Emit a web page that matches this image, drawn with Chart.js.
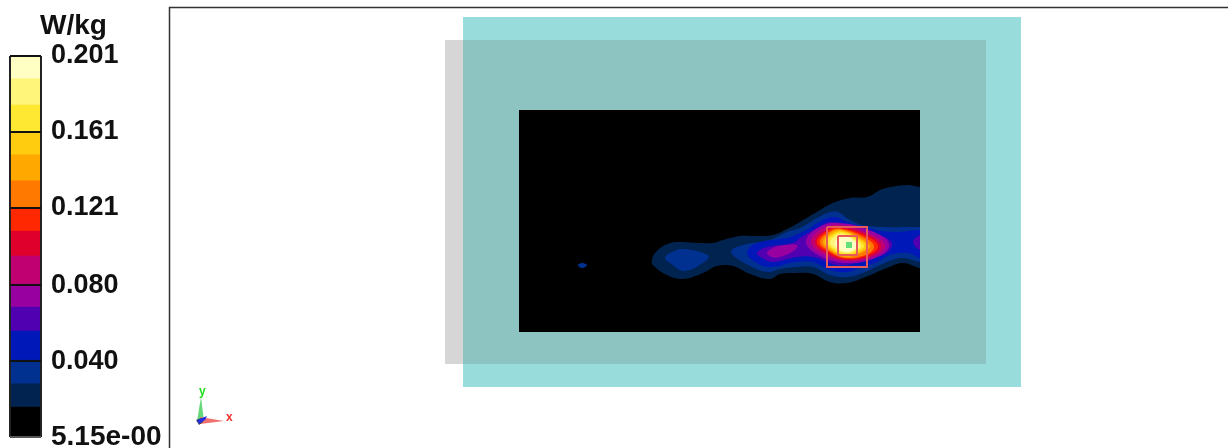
<!DOCTYPE html>
<html>
<head>
<meta charset="utf-8">
<title>SAR scan</title>
<script src="https://cdn.jsdelivr.net/npm/chart.js@4"></script>
<style>
  html, body { margin: 0; padding: 0; background: #fff; overflow: hidden; }
  #wrap { position: relative; width: 1228px; height: 448px; }
  canvas { position: absolute; left: 0; top: 0; }
  .txt { position: absolute; font-family: "Liberation Sans", sans-serif; font-weight: bold; line-height: 1; }
  #unit { left: 40px; top: 11px; font-size: 28px; color: #111; }
  #lblX { left: 226px; top: 411px; font-size: 12px; color: #f03030; }
  #lblY { left: 199px; top: 385px; font-size: 12px; color: #20e020; }
</style>
</head>
<body>
<div id="wrap">
  <canvas id="chart-map" width="1228" height="448"></canvas>
  <canvas id="chart-bar" width="169" height="448"></canvas>
  <div class="txt" id="unit">W/kg</div>
  <div class="txt" id="lblX">x</div>
  <div class="txt" id="lblY">y</div>
</div>
<script>
// Colour scale
const bandEdges = [0, 0.0158, 0.0280, 0.0406, 0.0559, 0.0686, 0.0807, 0.0955, 0.1087, 0.1208, 0.1351, 0.1488, 0.1609, 0.1751, 0.1889, 0.201];
const bandColors = ['#000000', '#00244f', '#003090', '#0018b8', '#5000b0', '#9800a0', '#c00070', '#e0002c', '#ff2800', '#ff7800', '#ffa800', '#ffcc10', '#ffe832', '#fff57a', '#ffffc4'];
const tickValues = [0.201, 0.161, 0.121, 0.080, 0.040, 0];
const tickLabels = ['0.201', '0.161', '0.121', '0.080', '0.040', '5.15e-00'];

// Phantom and scan outlines
const phantomBox = [[463, 17], [1021, 17], [1021, 387], [463, 387], [463, 17]];
const shellBox = [[445, 40], [986, 40], [986, 364], [445, 364], [445, 40]];
const overlapBox = [[463, 40], [986, 40], [986, 364], [463, 364], [463, 40]];
const scanBox = [[519, 110], [920, 110], [920, 332], [519, 332], [519, 110]];
const sideStrip = [[920, 110], [945, 110], [945, 332], [920, 332], [920, 110]];
const frameLine = [[169.5, 448], [169.5, 7.5], [1228, 7.5]];

// Contours, outer to inner
const navyOuter = [[652, 260], [655, 253], [665, 245], [677, 242], [700, 243], [713, 243], [723, 240], [740, 236], [757, 236], [773, 235], [787, 229], [800, 222], [820, 210], [833, 203], [850, 198], [867, 197], [883, 189], [907, 185], [920, 187], [932, 187], [932, 268], [920, 268], [903, 263], [887, 268], [863, 278], [847, 283], [830, 282], [813, 274], [797, 273], [780, 274], [770, 279], [750, 274], [733, 266], [717, 266], [703, 273], [683, 279], [667, 275], [653, 265], [652, 260]];
const blueSpot = [[578, 265], [582, 263], [587, 265], [582, 268], [578, 265]];
const blueLeft = [[665, 258], [670, 253], [683, 249], [708, 255], [707, 260], [685, 271], [670, 263], [665, 258]];
const blueMain = [[731, 252], [743, 245], [770, 240], [787, 232], [800, 228], [817, 218], [830, 212], [838, 212], [850, 220], [867, 226], [920, 227], [932, 227], [932, 262], [920, 262], [903, 258], [887, 262], [863, 273], [847, 277], [830, 275], [813, 267], [797, 267], [780, 269], [768, 272], [750, 266], [731, 252]];
const royalMain = [[747, 253], [757, 243], [787, 238], [800, 233], [810, 228], [817, 223], [833, 217], [847, 222], [867, 228], [893, 232], [920, 230], [932, 230], [932, 258], [920, 258], [908, 253], [890, 255], [877, 262], [860, 268], [847, 272], [830, 270], [813, 262], [797, 262], [770, 267], [757, 263], [747, 253]];
const violetMain = [[757, 253], [767, 247], [793, 243], [800, 238], [817, 228], [830, 222], [843, 225], [860, 230], [880, 235], [892, 243], [888, 252], [877, 257], [857, 263], [837, 265], [813, 257], [797, 257], [773, 262], [762, 258], [757, 253]];
const violetRight = [[932, 232], [920, 235], [913, 242], [920, 250], [932, 252], [932, 232]];
const purpleLeft = [[767, 253], [773, 248], [785, 245], [797, 245], [795, 250], [780, 257], [772, 257], [767, 253]];
const purpleHot = [[806, 242], [818, 228], [840, 223], [874, 232], [889, 244], [880, 256], [848, 263], [820, 256], [806, 242]];
const plumHot = [[811, 242], [822, 229], [840, 225], [872, 235], [885, 245], [877, 255], [848, 261], [823, 254], [811, 242]];
const crimsonHot = [[815, 242], [825, 231], [840, 227], [870, 236], [881, 246], [873, 255], [847, 260], [826, 253], [815, 242]];
const redHot = [[817, 242], [827, 231], [840, 228], [868, 237], [878, 246], [871, 254], [847, 259], [828, 252], [817, 242]];
const orangeHot = [[820, 242], [829, 232], [841, 229], [865, 238], [874, 246], [868, 254], [846, 258], [829, 251], [820, 242]];
const amberHot = [[823, 242], [830, 233], [841, 230], [860, 238], [870, 246], [863, 252], [846, 257], [831, 251], [823, 242]];
const goldHot = [[825, 242], [832, 234], [842, 231], [858, 238], [867, 246], [860, 252], [846, 256], [832, 250], [825, 242]];
const yellowHot = [[827, 242], [833, 235], [842, 232], [857, 239], [864, 246], [858, 251], [846, 255], [834, 250], [827, 242]];
const paleHot = [[830, 243], [835, 236], [843, 234], [855, 240], [861, 246], [856, 250], [846, 253], [836, 249], [830, 243]];
const creamHot = [[835, 244], [838, 238], [845, 236], [853, 240], [858, 245], [854, 250], [846, 252], [839, 249], [835, 244]];

// Scan markers
const zoomBox = [[827, 227], [867, 227], [867, 267], [827, 267], [827, 227]];
const cubeBox = [[838, 236], [857, 236], [857, 255], [838, 255], [838, 236]];
const peakCell = [[846, 242], [852, 242], [852, 248], [846, 248], [846, 242]];

// Axis triad
const triadGreen = [[197, 421], [204, 421], [201, 397], [197, 421]];
const triadRed = [[200, 417], [200, 424], [224, 421], [200, 417]];
const triadBlue = [[197, 420], [207, 416], [205, 420], [199, 424], [197, 420]];
const triadHub = [[196, 420], [201, 418], [203, 422], [199, 425], [196, 420]];

function filled(points, color, smooth) {
  // smooth loops repeat their ends so the seam has no corner
  const loop = smooth ? [points[points.length - 2], ...points, points[1]] : points;
  return {
    data: loop.map(p => ({ x: p[0], y: p[1] })),
    showLine: true,
    pointRadius: 0,
    borderWidth: 0,
    backgroundColor: color,
    fill: 'shape',
    tension: smooth ? 0.4 : 0
  };
}

function outlined(points, color, width) {
  return {
    data: points.map(p => ({ x: p[0], y: p[1] })),
    showLine: true,
    pointRadius: 0,
    borderColor: color,
    borderWidth: width,
    fill: false,
    tension: 0
  };
}

const mapLayers = [
  filled(phantomBox, '#98dddc'),
  filled(shellBox, '#d6d6d6'),
  filled(overlapBox, '#8dc3c1'),
  filled(scanBox, '#000000'),
  filled(navyOuter, bandColors[1], true),
  filled(blueSpot, bandColors[2], true),
  filled(blueLeft, bandColors[2], true),
  filled(blueMain, bandColors[2], true),
  filled(royalMain, bandColors[3], true),
  filled(violetMain, bandColors[4], true),
  filled(violetRight, bandColors[4], true),
  filled(purpleLeft, bandColors[5], true),
  filled(purpleHot, bandColors[5], true),
  filled(plumHot, bandColors[6], true),
  filled(crimsonHot, bandColors[7], true),
  filled(redHot, bandColors[8], true),
  filled(orangeHot, bandColors[9], true),
  filled(amberHot, bandColors[10], true),
  filled(goldHot, bandColors[11], true),
  filled(yellowHot, bandColors[12], true),
  filled(paleHot, bandColors[13], true),
  filled(creamHot, bandColors[14], true),
  filled(sideStrip, '#8dc3c1'),
  outlined(zoomBox, '#e85a5a', 2),
  outlined(cubeBox, '#e85a5a', 2),
  filled(peakCell, '#66e07a'),
  outlined(frameLine, '#333333', 1.5),
  filled(triadGreen, '#66d878'),
  filled(triadRed, '#f07070'),
  filled(triadHub, '#444444'),
  filled(triadBlue, '#2030e0')
];
// datasets draw last to first unless ordered
mapLayers.forEach((d, i) => { d.order = mapLayers.length - i; });

new Chart(document.getElementById('chart-map'), {
  type: 'scatter',
  data: { datasets: mapLayers },
  options: {
    responsive: false,
    animation: false,
    layout: { padding: 0 },
    plugins: { legend: { display: false }, tooltip: { enabled: false } },
    scales: {
      x: { type: 'linear', min: 0, max: 1228, display: false },
      y: { type: 'linear', min: 0, max: 448, reverse: true, display: false }
    }
  }
});

new Chart(document.getElementById('chart-bar'), {
  type: 'bar',
  data: {
    labels: ['W/kg'],
    datasets: bandColors.map((c, i) => ({
      data: [[bandEdges[i], bandEdges[i + 1]]],
      backgroundColor: c,
      barPercentage: 1,
      categoryPercentage: 1
    }))
  },
  options: {
    responsive: false,
    animation: false,
    layout: { padding: { left: 10, top: 56, bottom: 11, right: 0 } },
    plugins: { legend: { display: false }, tooltip: { enabled: false } },
    scales: {
      x: {
        stacked: true,
        afterFit: s => { s.height = 0; },
        ticks: { display: false },
        border: { display: false },
        grid: { offset: true, drawTicks: false, z: 1, color: '#222222', lineWidth: 2 }
      },
      y: {
        position: 'right',
        min: 0,
        max: 0.201,
        afterBuildTicks: s => { s.ticks = tickValues.map(v => ({ value: v })); },
        afterFit: s => { s.width = 128; s.paddingTop = 0; s.paddingBottom = 0; },
        border: { display: false },
        grid: {
          drawTicks: false,
          z: 1,
          lineWidth: 2,
          color: c => (c.tick && c.tick.value === 0 ? '#555555' : '#111111')
        },
        ticks: {
          autoSkip: false,
          padding: 10,
          maxRotation: 0,
          color: '#111111',
          font: c => ({ family: '"Liberation Sans", sans-serif', size: c.index === 5 ? 28 : 27, weight: 'bold' }),
          callback: (v, i) => tickLabels[i]
        }
      }
    }
  }
});
</script>
</body>
</html>
